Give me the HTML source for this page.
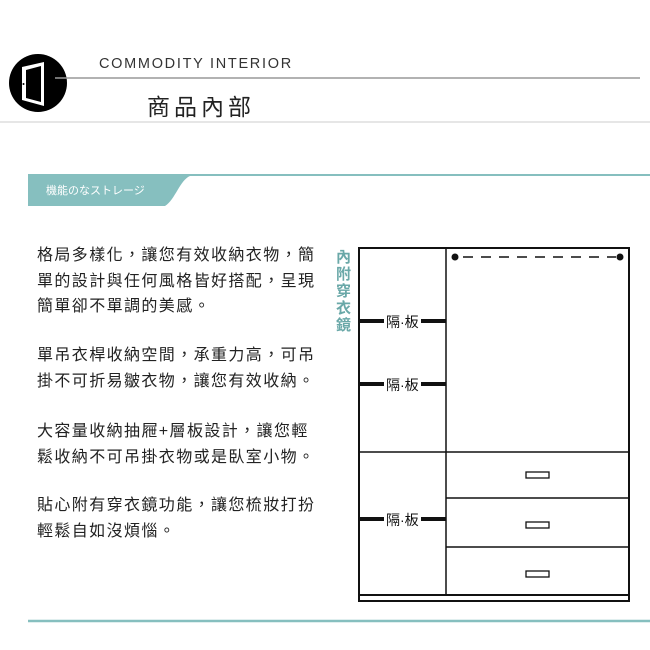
<!DOCTYPE html>
<html><head><meta charset="utf-8"><style>
body{margin:0;width:650px;height:650px;background:#fff;position:relative;overflow:hidden;font-family:"Liberation Sans","Noto Sans CJK TC",sans-serif}
.a{position:absolute}
.p{position:absolute;left:37px;font-size:16px;line-height:25.5px;color:#222;letter-spacing:1.4px;white-space:nowrap}
</style></head><body>
<svg class="a" style="left:0;top:0" width="650" height="650">
<circle cx="38" cy="83" r="29" fill="#000"/>
<polygon points="22,67 44,62 44,106 22,100" fill="#fff"/>
<polygon points="26,70 41,66 41,102 26,98" fill="#000"/>
<circle cx="23.5" cy="84" r="1" fill="#000"/>
<line x1="55" y1="78" x2="640" y2="78" stroke="#999" stroke-width="1.5"/>
<line x1="0" y1="122" x2="650" y2="122" stroke="#ddd" stroke-width="1.5"/>
<path d="M28,174 L650,174 L650,176 L190,176 C180,180 175,200 165,206 L28,206 Z" fill="#86bfbf"/>
<line x1="28" y1="621" x2="650" y2="621" stroke="#86bfbf" stroke-width="2.5"/>
<g stroke="#111" fill="none">
<rect x="359" y="248" width="270" height="353" stroke-width="2"/>
<line x1="359" y1="595" x2="629" y2="595" stroke-width="2"/>
<line x1="446" y1="248" x2="446" y2="595" stroke-width="1.5"/>
<line x1="359" y1="452" x2="629" y2="452" stroke-width="1.5"/>
<line x1="446" y1="498" x2="629" y2="498" stroke-width="1.5"/>
<line x1="446" y1="547" x2="629" y2="547" stroke-width="1.5"/>
<line x1="463" y1="257" x2="616" y2="257" stroke-width="1.5" stroke-dasharray="10,8"/>
<rect x="526" y="472" width="23" height="6" stroke-width="1.3"/>
<rect x="526" y="522" width="23" height="6" stroke-width="1.3"/>
<rect x="526" y="571" width="23" height="6" stroke-width="1.3"/>
<g stroke-width="4">
<line x1="360" y1="321" x2="384" y2="321"/><line x1="421" y1="321" x2="446" y2="321"/>
<line x1="360" y1="384" x2="384" y2="384"/><line x1="421" y1="384" x2="446" y2="384"/>
<line x1="360" y1="519" x2="384" y2="519"/><line x1="421" y1="519" x2="446" y2="519"/>
</g></g>
<circle cx="455" cy="257" r="3.5" fill="#111"/><circle cx="620" cy="257" r="3.5" fill="#111"/>
</svg>
<div class="a" style="left:99px;top:56px;font-size:14.5px;color:#333;letter-spacing:1.7px">COMMODITY INTERIOR</div>
<div class="a" style="left:147px;top:88px;font-size:23px;color:#222;letter-spacing:4px">商品內部</div>
<div class="a" style="left:46px;top:182px;font-size:11px;color:#fff">機能のなストレージ</div>
<div class="p" style="top:243px">格局多樣化，讓您有效收納衣物，簡<br>單的設計與任何風格皆好搭配，呈現<br>簡單卻不單調的美感。</div>
<div class="p" style="top:343px">單吊衣桿收納空間，承重力高，可吊<br>掛不可折易皺衣物，讓您有效收納。</div>
<div class="p" style="top:419px">大容量收納抽屜+層板設計，讓您輕<br>鬆收納不可吊掛衣物或是臥室小物。</div>
<div class="p" style="top:493px">貼心附有穿衣鏡功能，讓您梳妝打扮<br>輕鬆自如沒煩惱。</div>
<div class="a" style="left:336px;top:249px;width:16px;font-size:15px;line-height:17px;color:#6aa8a8;font-weight:bold">內附穿衣鏡</div>
<div class="a" style="left:386px;top:312px;font-size:14px;color:#111">隔·板</div>
<div class="a" style="left:386px;top:375px;font-size:14px;color:#111">隔·板</div>
<div class="a" style="left:386px;top:510px;font-size:14px;color:#111">隔·板</div>
</body></html>
